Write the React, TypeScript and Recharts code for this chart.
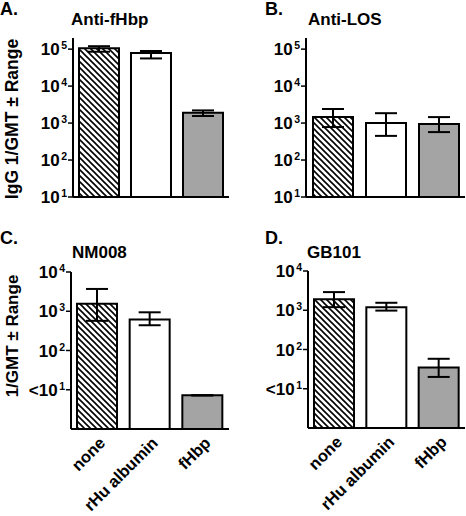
import React from "react";
import { BarChart, Bar, XAxis, YAxis, ErrorBar, Cell } from "recharts";

const categories = ["none", "rHu albumin", "fHbp"];

// Anti-fHbp (IgG)
const antiFhbpGmt = [105000, 78000, 1900];
const antiFhbpLow = [85000, 56000, 1550];
const antiFhbpHigh = [120000, 89000, 2200];

// Anti-LOS (IgG)
const antiLosGmt = [1450, 1000, 940];
const antiLosLow = [780, 450, 570];
const antiLosHigh = [2400, 1850, 1450];

// NM008 bactericidal
const nm008Gmt = [1550, 620, 7.2];
const nm008Low = [570, 440, null];
const nm008High = [3700, 940, null];

// GB101 bactericidal
const gb101Gmt = [1900, 1200, 35];
const gb101Low = [1200, 980, 20];
const gb101High = [2900, 1550, 58];

const topTicks = [10, 100, 1000, 10000, 100000];
const bottomTicks = [10, 100, 1000, 10000];

const FONT = "'Liberation Sans', Arial, Helvetica, sans-serif";
const GRAY = "#a4a4a4";
const FILLS = ["url(#hatch)", "#ffffff", GRAY];

function buildRows(gmt: number[], low: (number | null)[], high: (number | null)[]) {
  return categories.map((name, i) => ({
    name,
    gmt: gmt[i],
    err:
      low[i] == null || high[i] == null
        ? [0, 0]
        : [gmt[i] - (low[i] as number), (high[i] as number) - gmt[i]],
  }));
}

function YTick(props: any) {
  const { x, y, payload, lessThan } = props;
  const exp = Math.round(Math.log10(payload.value));
  const prefix = lessThan && payload.value === 10 ? "<" : "";
  return (
    <text
      x={x}
      y={y + 6}
      textAnchor="end"
      fontFamily={FONT}
      fontWeight="bold"
      fontSize={17}
      fill="#000"
    >
      {prefix}10
      <tspan dx={1.5} dy={-6} fontSize={10.5}>
        {exp}
      </tspan>
    </text>
  );
}

function XTick(props: any) {
  const { x, y, payload } = props;
  const tx = x + 9;
  const ty = y + 7;
  return (
    <text
      x={tx}
      y={ty}
      transform={`rotate(-45 ${tx} ${ty})`}
      textAnchor="end"
      fontFamily={FONT}
      fontWeight="bold"
      fontSize={16.5}
      fill="#000"
    >
      {payload.value}
    </text>
  );
}

interface PanelProps {
  left: number;
  top: number;
  width: number;
  height: number;
  axisWidth: number;
  margin: { top: number; right: number; bottom: number; left: number };
  data: any[];
  domain: [number, number];
  ticks: number[];
  bottom?: boolean;
}

function Panel({ left, top, width, height, axisWidth, margin, data, domain, ticks, bottom }: PanelProps) {
  return (
    <div style={{ position: "absolute", left, top }}>
      <BarChart width={width} height={height} data={data} margin={margin} barSize={40}>
        <defs>
          <pattern id="hatch" patternUnits="userSpaceOnUse" width={6} height={6}>
            <rect width={6} height={6} fill="#fff" />
            <path d="M0,0 L6,6 M-1,5 L1,7 M5,-1 L7,1" stroke="#000" strokeWidth={1.6} />
          </pattern>
        </defs>
        <XAxis
          dataKey="name"
          axisLine={{ stroke: "#000", strokeWidth: 2 }}
          tickLine={false}
          height={bottom ? 80 : 20}
          tick={bottom ? (p: any) => <XTick {...p} /> : false}
          interval={0}
        />
        <YAxis
          scale="log"
          domain={domain}
          ticks={ticks}
          allowDataOverflow
          width={axisWidth}
          axisLine={{ stroke: "#000", strokeWidth: 2 }}
          tickLine={{ stroke: "#000", strokeWidth: 1.5 }}
          tickSize={5}
          tickMargin={1}
          tick={(p: any) => <YTick {...p} lessThan={bottom} />}
          interval={0}
        />
        <Bar dataKey="gmt" stroke="#000" strokeWidth={2} isAnimationActive={false}>
          {data.map((d, i) => (
            <Cell key={d.name} fill={FILLS[i]} />
          ))}
          <ErrorBar dataKey="err" width={11} stroke="#000" strokeWidth={2} direction="y" isAnimationActive={false} />
        </Bar>
      </BarChart>
    </div>
  );
}

const textStyle = { fontFamily: FONT, fontWeight: "bold" as const, fill: "#000" };

export default function App() {
  return (
    <div style={{ position: "absolute", left: 0, top: 0, width: 466, height: 516, background: "#fff", overflow: "hidden" }}>
      <Panel
        left={0}
        top={0}
        width={233}
        height={260}
        axisWidth={73}
        margin={{ top: 38, right: 4, bottom: 43, left: 0 }}
        data={buildRows(antiFhbpGmt, antiFhbpLow, antiFhbpHigh)}
        domain={[10, 200000]}
        ticks={topTicks}
      />
      <Panel
        left={233}
        top={0}
        width={233}
        height={260}
        axisWidth={73}
        margin={{ top: 38, right: 1, bottom: 43, left: 0 }}
        data={buildRows(antiLosGmt, antiLosLow, antiLosHigh)}
        domain={[10, 200000]}
        ticks={topTicks}
      />
      <Panel
        left={0}
        top={260}
        width={233}
        height={256}
        axisWidth={71}
        margin={{ top: 12, right: 4, bottom: 7, left: 0 }}
        data={buildRows(nm008Gmt, nm008Low, nm008High)}
        domain={[1, 10000]}
        ticks={bottomTicks}
        bottom
      />
      <Panel
        left={233}
        top={260}
        width={233}
        height={256}
        axisWidth={75}
        margin={{ top: 11, right: 1, bottom: 8, left: 0 }}
        data={buildRows(gb101Gmt, gb101Low, gb101High)}
        domain={[1, 10000]}
        ticks={bottomTicks}
        bottom
      />
      <svg width={466} height={516} style={{ position: "absolute", left: 0, top: 0, pointerEvents: "none" }}>
        <text x={0} y={15} fontSize={18} {...textStyle}>A.</text>
        <text x={71} y={25} fontSize={17} {...textStyle}>Anti-fHbp</text>
        <text x={265} y={15} fontSize={18} {...textStyle}>B.</text>
        <text x={308} y={25} fontSize={17} {...textStyle}>Anti-LOS</text>
        <text x={0} y={244} fontSize={18} {...textStyle}>C.</text>
        <text x={72} y={258} fontSize={17} {...textStyle}>NM008</text>
        <text x={265} y={244} fontSize={18} {...textStyle}>D.</text>
        <text x={307} y={258} fontSize={17} {...textStyle}>GB101</text>
        <text x={18} y={119} fontSize={17.5} textAnchor="middle" transform="rotate(-90 18 119)" {...textStyle}>
          IgG 1/GMT ± Range
        </text>
        <text x={18} y={336} fontSize={17} textAnchor="middle" transform="rotate(-90 18 336)" {...textStyle}>
          1/GMT ± Range
        </text>
      </svg>
    </div>
  );
}
